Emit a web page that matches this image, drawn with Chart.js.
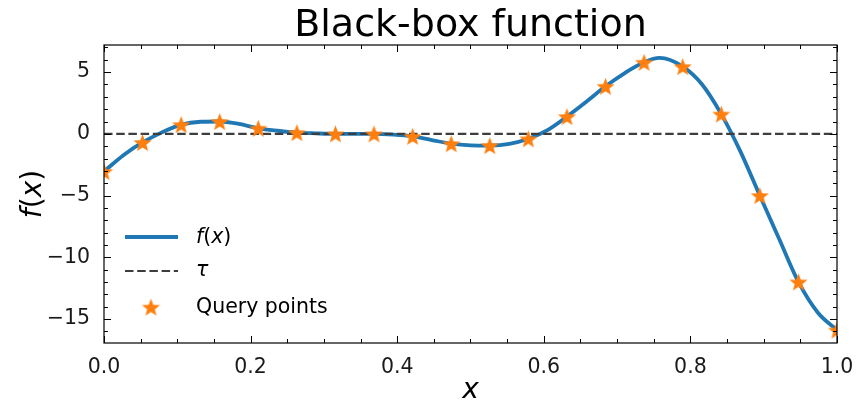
<!DOCTYPE html>
<html>
<head>
<meta charset="utf-8">
<script src="https://cdn.jsdelivr.net/npm/chart.js@4"></script>
<style>
  html, body { margin: 0; padding: 0; background: #fff; }
  #wrap { width: 859px; height: 405px; position: relative; }
</style>
</head>
<body>
<div id="wrap"><canvas id="chartFx" width="859" height="405"></canvas></div>
<script>
// ==================== DATOS ====================
const queryX = [0, 0.0526, 0.1053, 0.1579, 0.2105, 0.2632, 0.3158, 0.3684, 0.4211, 0.4737,
                0.5263, 0.5789, 0.6316, 0.6842, 0.7368, 0.7895, 0.8421, 0.8947, 0.9474, 1.0];
const queryY = [-3.05, -0.7, 0.75, 1.0, 0.45, 0.1, 0.0, 0.0, -0.2, -0.8,
                -0.95, -0.4, 1.4, 3.85, 5.8, 5.45, 1.6, -5.0, -12.0, -15.9];

// curve (query points plus in-between points)
const curveX = [0, 0.026, 0.0526, 0.079, 0.1053, 0.132, 0.1579, 0.184, 0.2105, 0.237, 0.2632,
                0.289, 0.3158, 0.342, 0.3684, 0.395, 0.4211, 0.447, 0.4737, 0.5, 0.5263,
                0.553, 0.5789, 0.605, 0.6316, 0.658, 0.6842, 0.711, 0.7368, 0.758, 0.7895,
                0.816, 0.8421, 0.868, 0.8947, 0.921, 0.9474, 0.974, 1.0];
const curveY = [-3.05, -1.75, -0.7, 0.12, 0.75, 0.98, 1.0, 0.8, 0.45, 0.25, 0.1,
                0.04, 0.0, 0.0, 0.0, -0.06, -0.2, -0.5, -0.8, -0.93, -0.95,
                -0.82, -0.4, 0.3, 1.4, 2.6, 3.85, 4.95, 5.8, 6.15, 5.45,
                4.0, 1.6, -1.4, -5.0, -8.5, -12.0, -14.5, -15.9];

const tauX = [0, 1];
const tauY = [0, 0];

const xTicks = [0, 0.2, 0.4, 0.6, 0.8, 1.0];
const yTicks = [-15, -10, -5, 0, 5];

const FONT = "'DejaVu Sans'";

// ==================== ESTRELLA ====================
function starImage(size, color) {
    const c = document.createElement('canvas');
    c.width = size; c.height = size;
    const g = c.getContext('2d');
    const cx = size / 2, cy = size / 2 + 0.9;
    const R = size / 2, r = R * 0.42;
    g.beginPath();
    for (let i = 0; i < 10; i++) {
        const rad = i % 2 === 0 ? R : r;
        const a = -Math.PI / 2 + i * Math.PI / 5;
        const px = cx + rad * Math.cos(a), py = cy + rad * Math.sin(a);
        if (i === 0) g.moveTo(px, py); else g.lineTo(px, py);
    }
    g.closePath();
    g.fillStyle = color;
    g.fill();
    return c;
}
const star = starImage(19, '#ff7f0e');

function pts(xs, ys) { return xs.map((x, i) => ({ x: x, y: ys[i] })); }

// ==================== PLUGIN: marco, ticks y textos ====================
const decoPlugin = {
    id: 'deco',
    afterDraw(chart) {
        const ctx = chart.ctx;
        const a = chart.chartArea;
        const xs = chart.scales.x, ys = chart.scales.y;
        ctx.save();
        ctx.strokeStyle = '#000';
        ctx.lineWidth = 1.2;
        ctx.strokeRect(a.left, a.top, a.right - a.left, a.bottom - a.top);

        // ticks hacia dentro, en los cuatro lados
        ctx.lineWidth = 1;
        ctx.beginPath();
        for (let v = 0; v <= 1.0001; v += 0.05) {
            const px = Math.round(xs.getPixelForValue(v)) + 0.5;
            const major = Math.abs(v * 5 - Math.round(v * 5)) < 1e-6;
            const len = major ? 7 : 4;
            ctx.moveTo(px, a.bottom); ctx.lineTo(px, a.bottom - len);
            ctx.moveTo(px, a.top); ctx.lineTo(px, a.top + len);
        }
        for (let v = -16; v <= 7; v += 1) {
            const py = Math.round(ys.getPixelForValue(v)) + 0.5;
            const len = v % 5 === 0 ? 7 : 4;
            ctx.moveTo(a.left, py); ctx.lineTo(a.left + len, py);
            ctx.moveTo(a.right, py); ctx.lineTo(a.right - len, py);
        }
        ctx.stroke();

        // título
        ctx.fillStyle = '#000';
        ctx.textAlign = 'center';
        ctx.textBaseline = 'alphabetic';
        ctx.font = '38px ' + FONT;
        ctx.fillText('Black-box function', (a.left + a.right) / 2, 36);

        // eje x
        ctx.font = 'italic 28px ' + FONT;
        ctx.fillText('x', (a.left + a.right) / 2, 398);

        // eje y
        ctx.save();
        ctx.translate(34, (a.top + a.bottom) / 2);
        ctx.rotate(-Math.PI / 2);
        drawFx(ctx, 0, 0, 28, 'center');
        ctx.restore();

        // leyenda
        const lx0 = 125, lx1 = 178, tx = 196;
        ctx.lineWidth = 3.8;
        ctx.strokeStyle = '#1f77b4';
        ctx.beginPath(); ctx.moveTo(lx0, 237); ctx.lineTo(lx1, 237); ctx.stroke();
        ctx.lineWidth = 2.2;
        ctx.strokeStyle = '#3d3d3d';
        ctx.setLineDash([8.5, 3.7]);
        ctx.beginPath(); ctx.moveTo(lx0, 271); ctx.lineTo(lx1, 271); ctx.stroke();
        ctx.setLineDash([]);
        ctx.drawImage(star, 151 - 9.5, 308 - 10.4);

        ctx.textBaseline = 'middle';
        drawFx(ctx, tx, 238, 20.5, 'left');
        ctx.font = 'italic 20.5px ' + FONT;
        ctx.textAlign = 'left';
        ctx.fillText('τ', tx, 271);
        ctx.font = '20.5px ' + FONT;
        ctx.fillText('Query points', tx, 308);
        ctx.restore();
    }
};

// dibuja "f(x)" con f y x en cursiva
function drawFx(ctx, x, y, size, align) {
    const parts = [['f', 'italic '], ['(', ''], ['x', 'italic '], [')', '']];
    let total = 0;
    parts.forEach(p => { ctx.font = p[1] + size + 'px ' + FONT; total += ctx.measureText(p[0]).width; });
    let cx = align === 'center' ? x - total / 2 : x;
    ctx.textAlign = 'left';
    ctx.textBaseline = 'middle';
    parts.forEach(p => {
        ctx.font = p[1] + size + 'px ' + FONT;
        ctx.fillText(p[0], cx, y);
        cx += ctx.measureText(p[0]).width;
    });
}

// ==================== GRÁFICO ====================
document.addEventListener("DOMContentLoaded", function() {
    const ctxFx = document.getElementById('chartFx').getContext('2d');

    new Chart(ctxFx, {
        type: 'line',
        data: {
            datasets: [{
                label: 'f(x)',
                data: pts(curveX, curveY),
                borderColor: '#1f77b4',
                borderWidth: 3.8,
                pointRadius: 0,
                cubicInterpolationMode: 'monotone',
                order: 3
            }, {
                label: 'τ',
                data: pts(tauX, tauY),
                borderColor: '#3d3d3d',
                borderWidth: 2.2,
                borderDash: [8.5, 3.7],
                pointRadius: 0,
                order: 2
            }, {
                label: 'Query points',
                data: pts(queryX, queryY),
                showLine: false,
                pointStyle: star,
                pointRadius: 9,
                order: 1
            }]
        },
        options: {
            responsive: false,
            animation: false,
            devicePixelRatio: 1,
            layout: { padding: { top: 45, right: 22, left: 0, bottom: 0 } },
            plugins: {
                legend: { display: false },
                tooltip: { enabled: false }
            },
            scales: {
                x: {
                    type: 'linear',
                    min: 0, max: 1,
                    afterBuildTicks: s => { s.ticks = xTicks.map(v => ({ value: v })); },
                    afterFit: s => { s.height = 62; },
                    grid: { display: false },
                    border: { display: false },
                    ticks: {
                        color: '#1a1a1a',
                        font: { family: FONT, size: 20.5 },
                        padding: 4,
                        maxRotation: 0,
                        callback: v => v.toFixed(1)
                    }
                },
                y: {
                    type: 'linear',
                    min: -16.95, max: 7.2,
                    afterBuildTicks: s => { s.ticks = yTicks.map(v => ({ value: v })); },
                    afterFit: s => { s.width = 104; },
                    grid: { display: false },
                    border: { display: false },
                    ticks: {
                        color: '#1a1a1a',
                        font: { family: FONT, size: 20.5 },
                        padding: 6,
                        callback: v => (v < 0 ? '\u2212' + Math.abs(v) : String(v))
                    }
                }
            }
        },
        plugins: [decoPlugin]
    });
});
</script>
</body>
</html>
